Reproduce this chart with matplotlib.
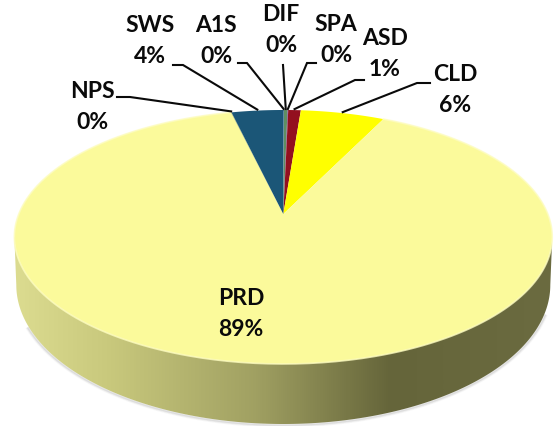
import numpy as np
import matplotlib
matplotlib.use("Agg")
import matplotlib.pyplot as plt
from matplotlib.colors import LinearSegmentedColormap
from matplotlib.patches import Polygon

# clockwise from 12 o'clock
categories = ["A1S", "DIF", "SPA", "ASD", "CLD", "PRD", "NPS", "SWS"]
values = [0.05, 0.25, 0.05, 0.9, 6.0, 89.0, 0.05, 3.7]
pct_labels = ["0%", "0%", "0%", "1%", "6%", "89%", "0%", "4%"]
colors = ["#3d6f9e", "#5f8f62", "#7a4a8c", "#93101f", "#ffff00", "#fbfa9b", "#b8c46a", "#1b5677"]

label_pos = {"A1S": (216, 41), "DIF": (281, 30), "SPA": (336, 40), "ASD": (385, 54),
             "CLD": (455, 90), "PRD": (241, 314), "NPS": (92, 107), "SWS": (150, 41)}
elbows = {"A1S": [(238, 63), (247, 63)], "DIF": [(283, 65)], "SPA": [(316, 63), (307, 63)],
          "ASD": [(364, 80), (355, 80)], "CLD": [(430, 83), (417, 83)],
          "NPS": [(117, 97), (130, 97)], "SWS": [(173, 65), (183, 65)]}

# perspective projection of the pie's circle into pixel space
CX, CY, A, B, K = 283.3, 214.0, 264.5, 84.1, 0.181


def project(theta):
    """theta is clockwise from 12 o'clock, in radians."""
    x, y = np.sin(theta), np.cos(theta)
    d = 1 + K * y
    return CX + A * x / d, (CY - B * y) / d


fig = plt.figure(figsize=(5.54, 4.26), dpi=100)
ax = fig.add_axes([0, 0, 1, 1])
ax.axis("off")

t = np.linspace(0, 2 * np.pi, 721)
tx, ty = project(t)
left, right = np.argmin(tx), np.argmax(tx)

# lower rim of the side wall
low_cx, low_cy, low_rx, low_ry = 283.3, 285.0, 267.0, 139.0
a = np.linspace(np.pi, 0, 361)
lx, ly = low_cx + low_rx * np.cos(a), low_cy + low_ry * np.sin(a)
wall_poly = np.vstack([[[tx[left], ty[left]]],
                       np.column_stack([lx, ly]),
                       [[tx[right], ty[right]]]])

# soft shadow under the lower rim only
b = np.linspace(np.pi * 0.90, np.pi * 0.07, 241)
for grow, alpha in [(2.4, 0.05), (1.6, 0.08), (0.8, 0.12)]:
    ax.plot(low_cx + (low_rx + grow) * np.cos(b), low_cy + (low_ry + grow) * np.sin(b),
            color="#666666", alpha=alpha, lw=1.6, zorder=1)

wall_cmap = LinearSegmentedColormap.from_list(
    "wall", [(0, "#dcdc90"), (0.18, "#c8c87c"), (0.45, "#a0a062"), (0.70, "#65653a"), (1, "#6b6b40")])
im = ax.imshow(np.linspace(0, 1, 512).reshape(1, -1), cmap=wall_cmap, aspect="auto",
               extent=(14, 552, 426, 0), zorder=2)
clip = Polygon(wall_poly, closed=True, transform=ax.transData, fc="none", ec="none")
ax.add_patch(clip)
im.set_clip_path(clip)
ax.set_xlim(0, 554)
ax.set_ylim(426, 0)

# top face: wedges from the values
fractions = np.array(values) / np.sum(values)
edges = np.concatenate([[0], np.cumsum(fractions)]) * 2 * np.pi
mids = {}
for i, cat in enumerate(categories):
    th = np.linspace(edges[i], edges[i + 1], max(3, int(fractions[i] * 720)))
    x, y = project(th)
    ax.fill(np.r_[CX, x], np.r_[CY, y], color=colors[i], lw=0, zorder=3)
    mids[cat] = project((edges[i] + edges[i + 1]) / 2)

# light bevel along the rim of the big slice
i_prd = categories.index("PRD")
rx_, ry_ = project(np.linspace(edges[i_prd], edges[i_prd + 1], 400))
ax.plot(rx_, ry_, color="#fdfcc0", lw=1.2, alpha=0.8, zorder=3.5)

# leader lines
for cat, pts in elbows.items():
    xs = [p[0] for p in pts] + [mids[cat][0]]
    ys = [p[1] for p in pts] + [mids[cat][1] - 1]
    ax.plot(xs, ys, color="#0a0a0a", lw=1.5, solid_joinstyle="miter", zorder=4)

# labels
for cat, pct in zip(categories, pct_labels):
    px, py = label_pos[cat]
    ax.text(px, py, f"{cat}\n{pct}", ha="center", va="center", family="Lato",
            weight="bold", fontsize=16.5, linespacing=1.55, color="#0a0a0a", zorder=5)

fig.savefig("out.png", dpi=100, facecolor="white")
